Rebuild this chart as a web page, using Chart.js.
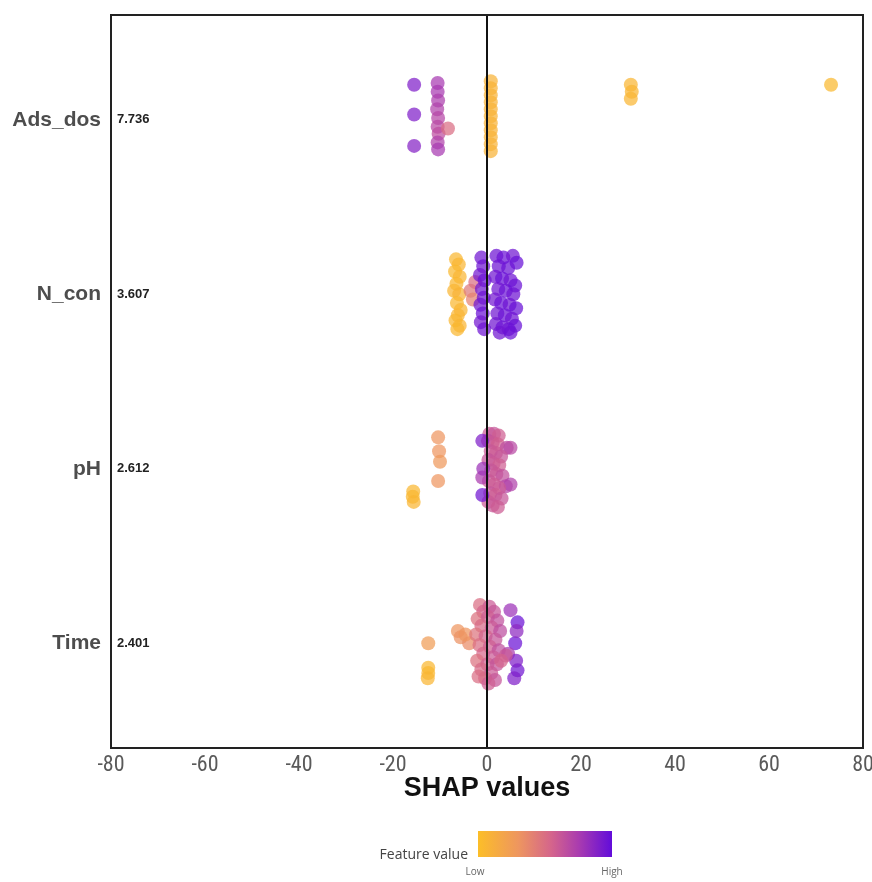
<!DOCTYPE html>
<html>
<head>
<meta charset="utf-8">
<script src="https://cdn.jsdelivr.net/npm/chart.js@4.4.1/dist/chart.umd.min.js"></script>
<style>
  html, body { margin: 0; padding: 0; background: #fff; }
</style>
</head>
<body>
<canvas id="chart-shap" width="872" height="882"></canvas>
<script>
// rows from bottom to top
const features = ["Time", "pH", "N_con", "Ads_dos"];
const importance = [2.401, 2.612, 3.607, 7.736];
const xTicks = [-80, -60, -40, -20, 0, 20, 40, 60, 80];

// Ads_dos
const adsShap = [-15.5, -15.5, -15.5,
  -10.5, -10.5, -10.4, -10.6, -10.4, -10.5, -10.3, -10.5, -10.4, -8.3,
  0.8, 0.8, 0.8, 0.8, 0.8, 0.8, 0.8, 0.8, 0.8, 0.8, 0.8,
  30.6, 30.8, 30.6, 73.2];
const adsJitter = [0.20, 0.03, -0.15,
  0.21, 0.16, 0.11, 0.06, 0.01, -0.04, -0.08, -0.13, -0.17, -0.05,
  0.22, 0.18, 0.14, 0.10, 0.06, 0.02, -0.02, -0.06, -0.10, -0.14, -0.18,
  0.20, 0.16, 0.12, 0.20];
const adsValue = [0.9, 0.9, 0.88,
  0.76, 0.76, 0.74, 0.72, 0.7, 0.68, 0.66, 0.72, 0.76, 0.5,
  0.08, 0.08, 0.08, 0.08, 0.08, 0.08, 0.08, 0.08, 0.08, 0.08, 0.08,
  0.06, 0.06, 0.06, 0.04];

// N_con
const nconShap = [-6.6, -6.0, -6.8, -5.8, -6.5, -7.0, -5.9, -6.4, -5.6, -6.2, -6.7, -5.8, -6.3,
  -3.5, -3.0, -2.5,
  -1.2, -0.8, -1.5, -0.5, -1.1, -0.7, -1.4, -0.9, -1.3, -0.6,
  2.0, 3.5, 5.5, 6.3, 2.5, 4.5, 1.8, 3.2, 5.0, 6.0, 2.4, 4.0, 5.6,
  1.7, 3.0, 4.8, 6.2, 2.2, 3.8, 5.3, 1.9, 3.3, 4.6, 6.0, 2.7, 5.0];
const nconJitter = [0.20, 0.17, 0.13, 0.10, 0.06, 0.02, 0.0, -0.05, -0.09, -0.12, -0.15, -0.18, -0.20,
  0.02, -0.03, 0.07,
  0.21, 0.16, 0.11, 0.08, 0.03, -0.02, -0.06, -0.11, -0.16, -0.20,
  0.22, 0.21, 0.22, 0.18, 0.16, 0.15, 0.10, 0.09, 0.08, 0.05, 0.03, 0.02, 0.0,
  -0.03, -0.05, -0.06, -0.08, -0.11, -0.12, -0.14, -0.17, -0.19, -0.20, -0.18, -0.22, -0.22];
const nconValue = [0.05, 0.06, 0.04, 0.07, 0.05, 0.06, 0.08, 0.05, 0.06, 0.07, 0.05, 0.06, 0.05,
  0.45, 0.4, 0.5,
  0.95, 0.96, 0.94, 0.97, 0.95, 0.96, 0.95, 0.97, 0.94, 0.96,
  0.96, 0.97, 0.95, 0.98, 0.96, 0.97, 0.95, 0.98, 0.96, 0.97, 0.95, 0.97, 0.96,
  0.94, 0.97, 0.96, 0.98, 0.95, 0.97, 0.96, 0.95, 0.97, 0.96, 0.98, 0.95, 0.97];

// pH
const phShap = [-10.4, -10.2, -10.0, -10.4,
  -15.7, -15.8, -15.6,
  0.5, 1.5, 2.5, 0.2, 1.2, 2.3, 4.2, 5.0, 0.8, 1.9, 3.0, 0.3, 1.4, 2.6,
  0.9, 2.0, 3.3, 0.4, 1.5, 4.0, 5.0, 2.6, 0.7, 1.8, 3.1, 0.3, 1.2, 2.3,
  -1.0, -1.0, -1.0, -0.8];
const phJitter = [0.18, 0.10, 0.04, -0.07,
  -0.13, -0.16, -0.19,
  0.20, 0.20, 0.19, 0.16, 0.15, 0.14, 0.12, 0.12, 0.10, 0.09, 0.07, 0.05, 0.03, 0.02,
  -0.01, -0.03, -0.04, -0.07, -0.09, -0.10, -0.09, -0.11, -0.14, -0.15, -0.17, -0.19, -0.21, -0.22,
  0.16, -0.15, -0.05, 0.0];
const phValue = [0.3, 0.3, 0.28, 0.3,
  0.05, 0.05, 0.06,
  0.6, 0.62, 0.58, 0.64, 0.6, 0.57, 0.66, 0.68, 0.61, 0.59, 0.62, 0.63, 0.6, 0.58,
  0.62, 0.6, 0.64, 0.61, 0.59, 0.7, 0.72, 0.6, 0.63, 0.58, 0.62, 0.6, 0.61, 0.59,
  0.9, 0.95, 0.75, 0.8];

// Time
const timeShap = [-12.5, -12.5, -12.6,
  -12.5,
  -6.2, -5.6, -3.8, -4.6,
  -1.5, 0.5, -0.8, 1.5, -2.0, 0.2, 2.2, -1.2, 1.0, 2.8, -2.3, -0.3, 1.8, -1.6,
  0.6, 2.5, -0.8, 1.3, -2.1, 0.1, 2.1, -1.2, 0.9, -0.4, 1.7, -1.8, 0.3,
  6.5, 6.0, 6.5, 5.0, 4.5, 5.8, 6.3, 6.2,
  4.0, 3.0];
const timeJitter = [-0.14, -0.17, -0.20,
  0.0,
  0.07, 0.035, 0.0, 0.05,
  0.22, 0.21, 0.18, 0.18, 0.14, 0.15, 0.13, 0.10, 0.09, 0.07, 0.05, 0.04, 0.02, -0.01,
  -0.02, -0.04, -0.06, -0.08, -0.10, -0.12, -0.12, -0.15, -0.17, -0.20, -0.21, -0.19, -0.23,
  0.12, 0.0, -0.155, 0.19, -0.06, -0.2, 0.07, -0.1,
  -0.07, -0.1];
const timeValue = [0.05, 0.05, 0.06,
  0.25,
  0.3, 0.32, 0.35, 0.3,
  0.5, 0.6, 0.55, 0.62, 0.48, 0.58, 0.64, 0.52, 0.6, 0.66, 0.47, 0.56, 0.62, 0.5,
  0.58, 0.65, 0.54, 0.6, 0.48, 0.57, 0.63, 0.52, 0.6, 0.55, 0.62, 0.5, 0.58,
  0.97, 0.97, 0.95, 0.8, 0.75, 0.9, 0.85, 0.9,
  0.6, 0.55];

const rows = [
  { shap: timeShap, jitter: timeJitter, value: timeValue },
  { shap: phShap, jitter: phJitter, value: phValue },
  { shap: nconShap, jitter: nconJitter, value: nconValue },
  { shap: adsShap, jitter: adsJitter, value: adsValue },
];

// low -> high feature value
const colorStops = [
  [0, [252, 190, 40]],
  [0.3, [238, 150, 95]],
  [0.55, [212, 100, 140]],
  [0.75, [170, 60, 175]],
  [1, [98, 12, 218]],
];

function featureColor(v, alpha) {
  for (let i = 1; i < colorStops.length; i++) {
    const [p1, c1] = colorStops[i];
    const [p0, c0] = colorStops[i - 1];
    if (v <= p1) {
      const t = (v - p0) / (p1 - p0);
      const c = c0.map((x, k) => Math.round(x + (c1[k] - x) * t));
      return `rgba(${c[0]}, ${c[1]}, ${c[2]}, ${alpha})`;
    }
  }
  const c = colorStops[colorStops.length - 1][1];
  return `rgba(${c[0]}, ${c[1]}, ${c[2]}, ${alpha})`;
}

const sans = '"Liberation Sans", Arial, sans-serif';
const narrow = '"Liberation Sans Narrow", "Arial Narrow", "Roboto Condensed", sans-serif';

const framePlugin = {
  id: "frame",
  afterDatasetsDraw(chart) {
    const { ctx, chartArea: a, scales } = chart;
    const x0 = scales.x.getPixelForValue(0);
    ctx.save();
    ctx.strokeStyle = "#111";
    ctx.lineWidth = 2;
    ctx.beginPath();
    ctx.moveTo(x0, a.top);
    ctx.lineTo(x0, a.bottom);
    ctx.stroke();
    ctx.strokeStyle = "#222";
    ctx.strokeRect(a.left, a.top, a.right - a.left, a.bottom - a.top);

    // mean |SHAP| next to each feature
    ctx.fillStyle = "#222";
    ctx.font = "bold 13px " + sans;
    ctx.textAlign = "left";
    ctx.textBaseline = "middle";
    importance.forEach((v, i) => {
      ctx.fillText(v.toFixed(3), a.left + 6, scales.y.getPixelForValue(i));
    });
    ctx.restore();
  },
  afterDraw(chart) {
    const { ctx } = chart;
    const bx = 478, by = 831, bw = 134, bh = 26;
    ctx.save();
    const grad = ctx.createLinearGradient(bx, 0, bx + bw, 0);
    colorStops.forEach(([p]) => grad.addColorStop(p, featureColor(p, 1)));
    ctx.fillStyle = grad;
    ctx.fillRect(bx, by, bw, bh);
    ctx.fillStyle = "#444";
    ctx.font = '14px "Open Sans", ' + sans;
    ctx.textAlign = "right";
    ctx.textBaseline = "middle";
    ctx.fillText("Feature value", bx - 10, by + 24);
    ctx.fillStyle = "#666";
    ctx.font = '10px "Open Sans", ' + sans;
    ctx.textAlign = "center";
    ctx.fillText("Low", bx - 3, by + 41);
    ctx.fillText("High", bx + bw, by + 41);
    ctx.restore();
  },
};

new Chart(document.getElementById("chart-shap"), {
  type: "scatter",
  data: {
    datasets: rows.map((r, row) => ({
      label: features[row],
      data: r.shap.map((s, i) => ({ x: s, y: row + r.jitter[i] })),
      pointBackgroundColor: r.value.map((v) => featureColor(v, 0.72)),
      pointBorderWidth: 0,
      pointRadius: 7,
      pointHoverRadius: 7,
    })),
  },
  options: {
    responsive: false,
    animation: false,
    layout: { padding: { top: 15, right: 9, bottom: 77, left: 0 } },
    plugins: { legend: { display: false }, tooltip: { enabled: false } },
    scales: {
      x: {
        type: "linear",
        min: -80,
        max: 80,
        afterBuildTicks: (s) => { s.ticks = xTicks.map((v) => ({ value: v })); },
        grid: { display: false, drawTicks: false },
        border: { display: false },
        ticks: { color: "#5a5a5a", font: { family: narrow, size: 22 }, padding: 4, maxRotation: 0, autoSkip: false },
        title: {
          display: true,
          text: "SHAP values",
          color: "#111",
          font: { family: sans, size: 27, weight: "bold" },
          padding: 0,
        },
        afterFit: (s) => { s.height = 57; s.paddingLeft = 0; s.paddingRight = 0; },
      },
      y: {
        type: "linear",
        min: -0.6,
        max: 3.6,
        afterBuildTicks: (s) => { s.ticks = features.map((f, i) => ({ value: i })); },
        grid: { display: false, drawTicks: false },
        border: { display: false },
        ticks: {
          callback: (v, i) => features[i],
          color: "#4d4d4d",
          font: { family: sans, size: 21, weight: "bold" },
          padding: 10,
        },
        afterFit: (s) => { s.width = 111; s.paddingTop = 0; s.paddingBottom = 0; },
      },
    },
  },
  plugins: [framePlugin],
});
</script>
</body>
</html>
